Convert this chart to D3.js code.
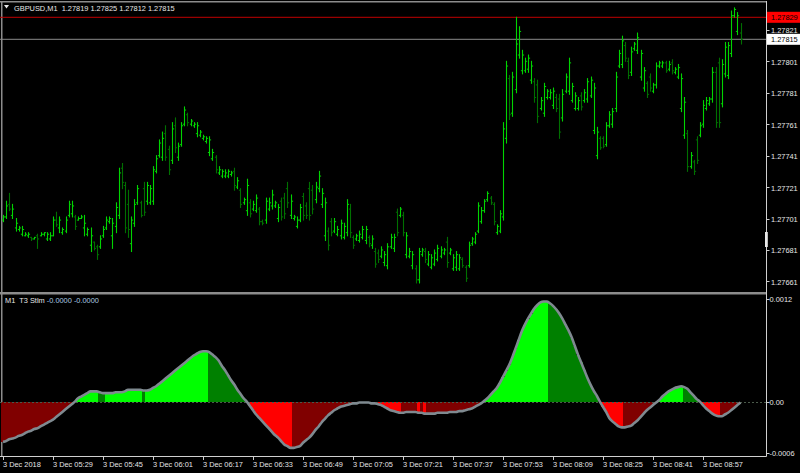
<!DOCTYPE html>
<html><head><meta charset="utf-8">
<script src="https://cdn.jsdelivr.net/npm/d3@7"></script>
<style>html,body{margin:0;padding:0;background:#000;overflow:hidden}</style>
</head><body>
<svg id="c" width="800" height="473"></svg>
<script>
// ---- OHLC data, one M1 bar per minute from 05:13 ----
const open = [
1.27700,1.27702,1.27710,1.27703,1.27695,1.27694,1.27691,1.27690,1.27690,1.27689,
1.27688,1.27690,1.27690,1.27691,1.27688,1.27688,1.27690,1.27700,1.27695,1.27692,
1.27693,1.27703,1.27704,1.27702,1.27700,1.27701,1.27695,1.27691,1.27684,1.27686,
1.27683,1.27683,1.27690,1.27695,1.27699,1.27690,1.27696,1.27703,1.27733,1.27722,
1.27710,1.27685,1.27698,1.27711,1.27711,1.27720,1.27712,1.27711,1.27712,1.27731,
1.27741,1.27740,1.27755,1.27745,1.27738,1.27760,1.27740,1.27748,1.27761,1.27767,
1.27761,1.27760,1.27755,1.27754,1.27752,1.27750,1.27743,1.27739,1.27740,1.27730,
1.27728,1.27728,1.27728,1.27729,1.27731,1.27721,1.27719,1.27711,1.27706,1.27711,
1.27707,1.27706,1.27707,
1.27699,1.27700,1.27707,1.27709,1.27709,1.27701,1.27712,1.27714,1.27720,1.27703,
1.27701,1.27696,1.27700,1.27715,1.27709,1.27720,1.27719,1.27713,1.27720,1.27710,
1.27690,1.27693,1.27699,1.27693,1.27691,1.27690,1.27689,1.27692,1.27707,1.27689,
1.27688,1.27687,1.27689,1.27687,1.27689,1.27684,1.27680,1.27679,1.27677,1.27673,
1.27671,1.27683,1.27682,1.27705,1.27703,1.27703,1.27678,1.27677,1.27671,1.27669,
1.27662,1.27678,1.27680,1.27672,1.27670,1.27672,1.27675,1.27677,1.27679,1.27686,
1.27679,1.27669,1.27670,1.27669,1.27675,1.27670,1.27671,1.27685,1.27686,1.27693,
1.27699,1.27706,1.27713,1.27714,1.27710,1.27692,1.27693,1.27702,1.27752,1.27790,
1.27768,1.27783,1.27805,1.27795,1.27795,1.27796,1.27789,1.27788,1.27786,1.27771,
1.27768,1.27778,1.27778,1.27773,1.27778,1.27777,1.27765,1.27782,1.27782,1.27776,
1.27771,1.27771,1.27779,1.27776,1.27777,1.27779,1.27757,1.27741,1.27752,1.27752,
1.27748,1.27760,1.27761,1.27771,1.27798,1.27799,1.27811,1.27801,1.27794,1.27809,
1.27808,1.27791,1.27784,1.27787,1.27791,1.27782,1.27786,1.27798,1.27798,1.27800,
1.27796,1.27800,1.27794,1.27791,1.27771,1.27754,1.27755,1.27734,1.27737,1.27751,
1.27754,1.27761,1.27771,1.27774,1.27777,1.27794,1.27800,1.27774,1.27793,1.27792,
1.27806,1.27830,1.27820,1.27819];
const high = [
1.27703,1.27712,1.27717,1.27710,1.27701,1.27696,1.27696,1.27692,1.27692,1.27689,
1.27689,1.27691,1.27692,1.27692,1.27692,1.27692,1.27702,1.27705,1.27702,1.27695,
1.27702,1.27712,1.27712,1.27703,1.27702,1.27703,1.27703,1.27695,1.27695,1.27686,
1.27684,1.27690,1.27696,1.27702,1.27702,1.27701,1.27711,1.27733,1.27736,1.27724,
1.27719,1.27702,1.27713,1.27722,1.27712,1.27724,1.27724,1.27722,1.27734,1.27741,
1.27751,1.27756,1.27760,1.27747,1.27762,1.27765,1.27749,1.27762,1.27772,1.27768,
1.27764,1.27762,1.27762,1.27757,1.27754,1.27753,1.27753,1.27745,1.27741,1.27734,
1.27732,1.27732,1.27732,1.27731,1.27733,1.27727,1.27720,1.27714,1.27726,1.27713,
1.27712,1.27716,1.27708,
1.27700,1.27714,1.27714,1.27719,1.27712,1.27710,1.27714,1.27717,1.27724,1.27716,
1.27703,1.27702,1.27710,1.27717,1.27711,1.27724,1.27722,1.27724,1.27731,1.27720,
1.27714,1.27695,1.27701,1.27701,1.27696,1.27700,1.27698,1.27713,1.27710,1.27690,
1.27691,1.27693,1.27696,1.27696,1.27690,1.27690,1.27682,1.27681,1.27683,1.27680,
1.27685,1.27691,1.27691,1.27707,1.27708,1.27705,1.27692,1.27682,1.27680,1.27671,
1.27682,1.27682,1.27682,1.27680,1.27678,1.27681,1.27684,1.27683,1.27682,1.27689,
1.27682,1.27678,1.27680,1.27678,1.27676,1.27671,1.27686,1.27689,1.27692,1.27711,
1.27708,1.27713,1.27718,1.27715,1.27711,1.27697,1.27706,1.27762,1.27801,1.27792,
1.27794,1.27829,1.27823,1.27808,1.27803,1.27805,1.27801,1.27790,1.27789,1.27778,
1.27787,1.27783,1.27783,1.27784,1.27780,1.27780,1.27783,1.27793,1.27803,1.27787,
1.27781,1.27778,1.27781,1.27783,1.27790,1.27791,1.27787,1.27759,1.27753,1.27753,
1.27762,1.27769,1.27771,1.27794,1.27808,1.27817,1.27813,1.27803,1.27810,1.27813,
1.27819,1.27808,1.27797,1.27788,1.27793,1.27787,1.27800,1.27801,1.27801,1.27801,
1.27801,1.27802,1.27797,1.27799,1.27793,1.27778,1.27757,1.27743,1.27738,1.27753,
1.27762,1.27776,1.27778,1.27778,1.27797,1.27797,1.27803,1.27802,1.27813,1.27813,
1.27833,1.27835,1.27832,1.27825];
const low = [
1.27699,1.27701,1.27706,1.27701,1.27693,1.27693,1.27690,1.27690,1.27689,1.27687,
1.27688,1.27682,1.27690,1.27690,1.27687,1.27687,1.27690,1.27696,1.27692,1.27691,
1.27692,1.27702,1.27702,1.27694,1.27700,1.27701,1.27690,1.27690,1.27680,1.27681,
1.27675,1.27682,1.27689,1.27694,1.27698,1.27682,1.27692,1.27701,1.27720,1.27692,
1.27689,1.27680,1.27696,1.27710,1.27702,1.27703,1.27710,1.27710,1.27710,1.27730,
1.27740,1.27738,1.27738,1.27729,1.27736,1.27743,1.27738,1.27747,1.27760,1.27760,
1.27760,1.27759,1.27753,1.27753,1.27751,1.27749,1.27741,1.27738,1.27730,1.27729,
1.27727,1.27727,1.27727,1.27728,1.27719,1.27720,1.27708,1.27710,1.27703,1.27702,
1.27706,1.27705,1.27697,
1.27697,1.27698,1.27706,1.27707,1.27708,1.27699,1.27700,1.27701,1.27708,1.27701,
1.27700,1.27695,1.27699,1.27700,1.27701,1.27700,1.27704,1.27711,1.27718,1.27708,
1.27687,1.27681,1.27690,1.27692,1.27690,1.27688,1.27688,1.27690,1.27689,1.27682,
1.27687,1.27686,1.27688,1.27685,1.27683,1.27682,1.27670,1.27673,1.27676,1.27671,
1.27669,1.27682,1.27680,1.27690,1.27702,1.27690,1.27676,1.27676,1.27669,1.27660,
1.27660,1.27677,1.27673,1.27671,1.27669,1.27671,1.27674,1.27676,1.27678,1.27670,
1.27678,1.27668,1.27668,1.27668,1.27670,1.27661,1.27670,1.27684,1.27685,1.27692,
1.27698,1.27705,1.27712,1.27710,1.27697,1.27691,1.27692,1.27700,1.27749,1.27764,
1.27766,1.27781,1.27803,1.27793,1.27794,1.27794,1.27787,1.27775,1.27762,1.27770,
1.27766,1.27777,1.27777,1.27771,1.27769,1.27752,1.27763,1.27781,1.27780,1.27775,
1.27770,1.27770,1.27770,1.27775,1.27775,1.27778,1.27755,1.27739,1.27745,1.27746,
1.27747,1.27759,1.27759,1.27769,1.27797,1.27797,1.27801,1.27790,1.27792,1.27808,
1.27806,1.27789,1.27782,1.27778,1.27782,1.27781,1.27784,1.27797,1.27797,1.27794,
1.27795,1.27793,1.27793,1.27790,1.27769,1.27752,1.27731,1.27733,1.27729,1.27736,
1.27753,1.27759,1.27770,1.27773,1.27775,1.27759,1.27759,1.27772,1.27791,1.27790,
1.27804,1.27829,1.27818,1.27812];
const close = [
1.27702,1.27709,1.27707,1.27707,1.27698,1.27695,1.27694,1.27691,1.27691,1.27688,
1.27689,1.27688,1.27691,1.27692,1.27691,1.27690,1.27700,1.27697,1.27700,1.27694,
1.27700,1.27710,1.27709,1.27696,1.27701,1.27702,1.27698,1.27694,1.27690,1.27682,
1.27678,1.27688,1.27694,1.27700,1.27701,1.27698,1.27708,1.27730,1.27724,1.27695,
1.27694,1.27700,1.27710,1.27720,1.27703,1.27705,1.27722,1.27720,1.27732,1.27739,
1.27749,1.27752,1.27740,1.27732,1.27758,1.27746,1.27747,1.27760,1.27770,1.27762,
1.27763,1.27761,1.27760,1.27756,1.27753,1.27752,1.27751,1.27743,1.27732,1.27732,
1.27731,1.27730,1.27731,1.27730,1.27722,1.27725,1.27710,1.27713,1.27722,1.27704,
1.27710,1.27714,1.27699,
1.27698,1.27712,1.27711,1.27716,1.27711,1.27708,1.27702,1.27704,1.27711,1.27712,
1.27702,1.27700,1.27708,1.27703,1.27703,1.27703,1.27707,1.27721,1.27728,1.27717,
1.27711,1.27684,1.27692,1.27699,1.27694,1.27698,1.27696,1.27710,1.27692,1.27684,
1.27690,1.27691,1.27694,1.27694,1.27685,1.27688,1.27672,1.27675,1.27681,1.27678,
1.27683,1.27689,1.27689,1.27692,1.27707,1.27692,1.27690,1.27680,1.27678,1.27662,
1.27680,1.27681,1.27675,1.27678,1.27676,1.27679,1.27682,1.27681,1.27681,1.27673,
1.27681,1.27676,1.27678,1.27676,1.27671,1.27663,1.27684,1.27688,1.27691,1.27709,
1.27706,1.27712,1.27717,1.27711,1.27699,1.27696,1.27704,1.27758,1.27798,1.27767,
1.27791,1.27812,1.27820,1.27805,1.27801,1.27803,1.27798,1.27778,1.27766,1.27776,
1.27785,1.27782,1.27781,1.27782,1.27771,1.27756,1.27780,1.27791,1.27800,1.27785,
1.27779,1.27776,1.27772,1.27781,1.27788,1.27789,1.27784,1.27756,1.27746,1.27747,
1.27760,1.27767,1.27769,1.27791,1.27806,1.27814,1.27803,1.27792,1.27807,1.27812,
1.27816,1.27806,1.27795,1.27780,1.27784,1.27786,1.27798,1.27800,1.27800,1.27795,
1.27799,1.27795,1.27796,1.27797,1.27790,1.27775,1.27734,1.27741,1.27731,1.27738,
1.27760,1.27773,1.27776,1.27777,1.27794,1.27762,1.27762,1.27799,1.27810,1.27811,
1.27830,1.27834,1.27830,1.27815];
// ---- T3 Stlm indicator values (one per bar) ----
const t3 = [
-0.00047,-0.00046,-0.00044,-0.00043,-0.00042,-0.00040,-0.00039,-0.00037,-0.00035,-0.00034,
-0.00032,-0.00031,-0.00029,-0.00027,-0.00025,-0.00023,-0.00021,-0.00018,-0.00015,-0.00012,
-0.00009,-0.00006,-0.00003,0.00000,0.00004,0.00006,0.00008,0.00010,0.00012,0.00012,
0.00012,0.00011,0.00010,0.00010,0.00010,0.00010,0.00011,0.00011,0.00011,0.00012,
0.00014,0.00014,0.00014,0.00014,0.00014,0.00013,0.00013,0.00014,0.00016,0.00018,
0.00021,0.00024,0.00027,0.00030,0.00033,0.00036,0.00039,0.00042,0.00045,0.00048,
0.00051,0.00054,0.00056,0.00058,0.00059,0.00059,0.00058,0.00055,0.00052,0.00048,
0.00042,0.00037,0.00031,0.00025,0.00020,0.00014,0.00009,0.00004,0.00000,-0.00005,
-0.00010,-0.00015,-0.00019,-0.00023,-0.00027,-0.00031,-0.00035,-0.00039,-0.00042,-0.00046,
-0.00050,-0.00052,-0.00054,-0.00054,-0.00053,-0.00052,-0.00048,-0.00045,-0.00042,-0.00038,
-0.00033,-0.00029,-0.00024,-0.00020,-0.00016,-0.00013,-0.00010,-0.00008,-0.00006,-0.00005,
-0.00004,-0.00003,-0.00002,-0.00002,-0.00001,-0.00001,-0.00001,-0.00001,-0.00002,-0.00002,
-0.00003,-0.00004,-0.00006,-0.00008,-0.00010,-0.00011,-0.00012,-0.00013,-0.00013,-0.00012,
-0.00012,-0.00012,-0.00012,-0.00013,-0.00013,-0.00014,-0.00014,-0.00014,-0.00014,-0.00013,
-0.00013,-0.00013,-0.00013,-0.00012,-0.00012,-0.00012,-0.00011,-0.00011,-0.00010,-0.00009,
-0.00008,-0.00006,-0.00004,-0.00002,0.00001,0.00004,0.00008,0.00012,0.00016,0.00022,
0.00029,0.00036,0.00043,0.00052,0.00062,0.00072,0.00082,0.00090,0.00097,0.00103,
0.00109,0.00113,0.00116,0.00117,0.00117,0.00115,0.00112,0.00108,0.00103,0.00097,
0.00090,0.00083,0.00075,0.00065,0.00055,0.00046,0.00037,0.00028,0.00020,0.00013,
0.00007,0.00000,-0.00006,-0.00012,-0.00019,-0.00023,-0.00026,-0.00029,-0.00030,-0.00030,
-0.00029,-0.00028,-0.00025,-0.00022,-0.00018,-0.00014,-0.00010,-0.00007,-0.00004,-0.00001,
0.00002,0.00006,0.00009,0.00012,0.00014,0.00016,0.00017,0.00018,0.00017,0.00015,
0.00011,0.00007,0.00003,0.00000,-0.00004,-0.00008,-0.00011,-0.00014,-0.00016,-0.00017,
-0.00017,-0.00015,-0.00013,-0.00010,-0.00007,-0.00004,-0.00001];

const priceTicks = [1.27821,1.27801,1.27781,1.27761,1.27741,1.27721,1.27701,1.27681,1.27661];
const t3Ticks = [0.0012, 0.0, -0.0006];
const t3TickLabels = ["0.0012", "0.00", "-0.0006"];
const timeLabelBars = [0,16,32,48,64,80,96,112,128,144,160,176,192,208,224];
const timeLabels = ["3 Dec 2018","3 Dec 05:29","3 Dec 05:45","3 Dec 06:01","3 Dec 06:17","3 Dec 06:33","3 Dec 06:49","3 Dec 07:05","3 Dec 07:21","3 Dec 07:37","3 Dec 07:53","3 Dec 08:09","3 Dec 08:25","3 Dec 08:41","3 Dec 08:57"];
const askPrice = 1.27829, bidPrice = 1.27815;
const symbolTitle = "GBPUSD,M1  1.27819 1.27825 1.27812 1.27815";
const indicatorTitle = "M1  T3 Stlm";
const indicatorValues = "-0.0000 -0.0000";

// ---- layout ----
const W = 800, H = 473, axisX = 766.5, paneSep = 292, bottomAxisY = 456.5;
const FONT = "'Liberation Sans', Arial, sans-serif", FS = 7.4;
const svg = d3.select("#c");
svg.append("rect").attr("width", W).attr("height", H).attr("fill", "#000");

const n = close.length;
const x = d3.scaleLinear().domain([0, n - 1]).range([3, 3 + 3.125 * (n - 1)]);
const y = d3.scaleLinear().domain([1.27661, 1.27829]).range([281.4, 17.3]);
const yi = d3.scaleLinear().domain([-0.0006, 0.0012]).range([453, 299]);

// frame
const frame = "#8c8c8c";
svg.append("rect").attr("x", 0).attr("y", 1).attr("width", axisX).attr("height", 1.5).attr("fill", frame);
svg.append("rect").attr("x", 1).attr("y", 1).attr("width", 1.5).attr("height", bottomAxisY - 1).attr("fill", frame);
svg.append("rect").attr("x", 0).attr("y", paneSep).attr("width", axisX).attr("height", 2.5).attr("fill", frame);

// ask / bid lines
svg.append("line").attr("x1", 0).attr("x2", axisX).attr("y1", y(askPrice)).attr("y2", y(askPrice))
  .attr("stroke", "#c00000").attr("stroke-width", 1);
svg.append("line").attr("x1", 0).attr("x2", axisX).attr("y1", y(bidPrice)).attr("y2", y(bidPrice))
  .attr("stroke", "#8a8a8a").attr("stroke-width", 1);

// price bars
const up = "#00d400", dn = "#007000";
const gBars = svg.append("g");
d3.range(n).forEach(i => {
  const cx = Math.round(x(i)) + 0.5;
  const col = close[i] >= open[i] ? up : dn;
  gBars.append("line").attr("x1", cx).attr("x2", cx).attr("y1", y(high[i]) - 0.5).attr("y2", y(low[i]) + 0.5)
    .attr("stroke", col).attr("stroke-width", 1.1);
  gBars.append("line").attr("x1", cx - 1.6).attr("x2", cx).attr("y1", y(open[i])).attr("y2", y(open[i]))
    .attr("stroke", col).attr("stroke-width", 1);
  gBars.append("line").attr("x1", cx).attr("x2", cx + 1.6).attr("y1", y(close[i])).attr("y2", y(close[i]))
    .attr("stroke", col).attr("stroke-width", 1);
});

// indicator histogram (pixel-snapped, no seams)
const gH = svg.append("g").attr("shape-rendering", "crispEdges");
const bw = 3.125;
d3.range(n).forEach(i => {
  const v = t3[i], pv = i > 0 ? t3[i - 1] : v;
  let col;
  if (v >= 0) col = v >= pv ? "#00ff00" : "#008000";
  else col = v < pv ? "#ff0000" : "#800000";
  const x0 = Math.round(x(i) - bw / 2), x1 = Math.round(x(i) + bw / 2);
  const y0 = yi(0), y1 = yi(v);
  gH.append("rect").attr("x", x0).attr("width", Math.max(1, x1 - x0))
    .attr("y", Math.min(y0, y1)).attr("height", Math.abs(y1 - y0)).attr("fill", col);
});
// zero line
svg.append("line").attr("x1", 0).attr("x2", axisX).attr("y1", Math.round(yi(0)) + 0.5).attr("y2", Math.round(yi(0)) + 0.5)
  .attr("stroke", "#4a5a4a").attr("stroke-dasharray", "2,2").attr("stroke-width", 1);
// T3 line
svg.append("path").datum(t3)
  .attr("d", d3.line().x((d, i) => x(i)).y(d => yi(d)).curve(d3.curveMonotoneX))
  .attr("fill", "none").attr("stroke", "#7f8a90").attr("stroke-width", 2.6).attr("stroke-linejoin", "round");

// right axis
svg.append("line").attr("x1", axisX).attr("x2", axisX).attr("y1", 1).attr("y2", bottomAxisY)
  .attr("stroke", "#d0d0d0").attr("stroke-width", 1);
const txt = "#e6e6e6";
priceTicks.forEach(p => {
  svg.append("line").attr("x1", axisX).attr("x2", axisX + 3).attr("y1", Math.round(y(p)) + 0.5).attr("y2", Math.round(y(p)) + 0.5)
    .attr("stroke", "#d0d0d0");
  svg.append("text").attr("x", 771).attr("y", y(p) + 3.5).text(p.toFixed(5))
    .attr("font-family", FONT).attr("font-size", FS).attr("fill", txt);
});
t3Ticks.forEach((v, k) => {
  svg.append("line").attr("x1", axisX).attr("x2", axisX + 3).attr("y1", Math.round(yi(v)) + 0.5).attr("y2", Math.round(yi(v)) + 0.5)
    .attr("stroke", "#d0d0d0");
  svg.append("text").attr("x", 769.5).attr("y", yi(v) + 3.3).text(t3TickLabels[k])
    .attr("font-family", FONT).attr("font-size", FS).attr("fill", txt);
});
// ask / bid labels
[[askPrice, "#ff0000", "#000000"], [bidPrice, "#ffffff", "#000000"]].forEach(([p, bg, fg]) => {
  svg.append("rect").attr("x", 767).attr("y", y(p) - 5.5).attr("width", 33).attr("height", 11).attr("fill", bg);
  svg.append("text").attr("x", 771).attr("y", y(p) + 3).text(p.toFixed(5))
    .attr("font-family", FONT).attr("font-size", FS).attr("fill", fg);
});
// shift marker
svg.append("rect").attr("x", 765).attr("y", 232).attr("width", 2.8).attr("height", 15).attr("fill", "#e8e8e8");

// bottom axis
svg.append("line").attr("x1", 0).attr("x2", axisX).attr("y1", bottomAxisY).attr("y2", bottomAxisY)
  .attr("stroke", "#d0d0d0");
timeLabelBars.forEach((b, k) => {
  const tx = Math.round(x(b)) + 0.5;
  svg.append("line").attr("x1", tx).attr("x2", tx).attr("y1", bottomAxisY).attr("y2", bottomAxisY + 3.5).attr("stroke", "#d0d0d0");
  svg.append("text").attr("x", tx - 0.5).attr("y", 467).text(timeLabels[k])
    .attr("font-family", FONT).attr("font-size", FS).attr("fill", txt);
});

// titles
svg.append("path").attr("d", "M4,5 L9,5 L6.5,8.5 Z").attr("fill", txt);
svg.append("text").attr("x", 14).attr("y", 10.5).text(symbolTitle)
  .style("white-space", "pre").attr("font-family", FONT).attr("font-size", FS).attr("fill", txt);
const it = svg.append("text").attr("x", 5).attr("y", 303).attr("font-family", FONT).attr("font-size", FS).style("white-space", "pre");
it.append("tspan").attr("fill", txt).text(indicatorTitle + " ");
it.append("tspan").attr("fill", "#a8c8e0").text(indicatorValues);
</script>
</body></html>
